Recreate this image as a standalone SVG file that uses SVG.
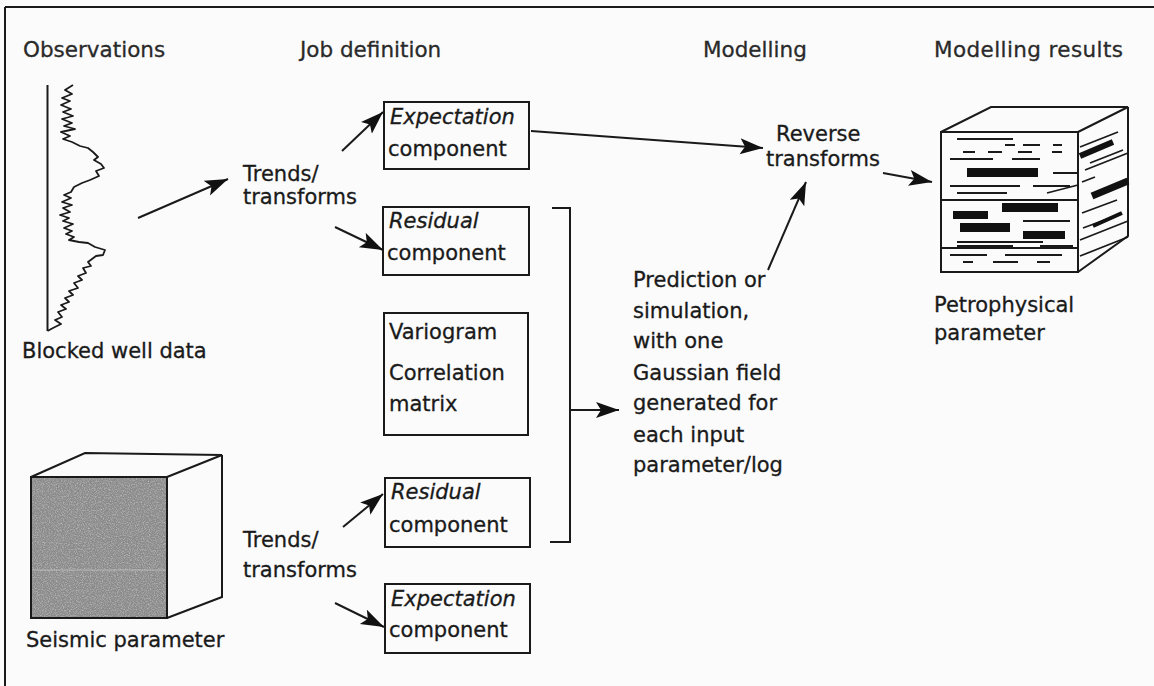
<svg xmlns="http://www.w3.org/2000/svg" width="1154" height="686" viewBox="0 0 1154 686">
  <style>
    .hdr { font-family: "DejaVu Sans", "Liberation Sans", sans-serif; font-size: 21.5px; fill: #2a2a2a; stroke: #2a2a2a; stroke-width: 0.3; }
    .txt { font-family: "DejaVu Sans", "Liberation Sans", sans-serif; font-size: 21px; fill: #1a1a1a; stroke: #1a1a1a; stroke-width: 0.3; }
    .it { font-style: italic; }
    .box { fill: none; stroke: #1a1a1a; stroke-width: 2; }
    .ln { fill: none; stroke: #1a1a1a; stroke-width: 2; }
    .arr { fill: none; stroke: #1a1a1a; stroke-width: 2; marker-end: url(#head); }
    .thin { fill: none; stroke: #1a1a1a; stroke-width: 1.8; stroke-linejoin: round; }
    .bar { fill: #111; }
  </style>
  <defs>
    <marker id="head" markerUnits="userSpaceOnUse" markerWidth="26" markerHeight="18" refX="23" refY="8" orient="auto">
      <path d="M0,0 L23,8 L0,16 L5,8 Z" fill="#111"/>
    </marker>
    <filter id="grain" x="0" y="0" width="100%" height="100%">
      <feTurbulence type="fractalNoise" baseFrequency="0.85" numOctaves="2" seed="7"/>
      <feColorMatrix type="matrix" values="0 0 0 0 1  0 0 0 0 1  0 0 0 0 1  1.8 0 0 0 -0.75"/>
    </filter>
    <filter id="grainDark" x="0" y="0" width="100%" height="100%">
      <feTurbulence type="fractalNoise" baseFrequency="0.7" numOctaves="2" seed="21"/>
      <feColorMatrix type="matrix" values="0 0 0 0 0.3  0 0 0 0 0.3  0 0 0 0 0.3  1.8 0 0 0 -0.8"/>
    </filter>
  </defs>

  <rect x="0" y="0" width="1154" height="686" fill="#fbfbfb"/>

  <!-- frame -->
  <g id="frame">
    <line x1="5" y1="7" x2="1154" y2="7" class="ln"/>
    <line x1="5" y1="7" x2="5" y2="686" class="ln"/>
  </g>

  <!-- column headings -->
  <g id="headings">
    <text class="hdr" x="23" y="57">Observations</text>
    <text class="hdr" x="300" y="57">Job definition</text>
    <text class="hdr" x="703" y="57">Modelling</text>
    <text class="hdr" x="934" y="57" textLength="189" lengthAdjust="spacing">Modelling results</text>
  </g>

  <!-- well log -->
  <g id="well-data">
    <line x1="47.5" y1="85" x2="47.5" y2="331" class="ln"/>
    <polyline class="thin" stroke-width="2" points="73,85 65,90 72,94 62,98 70,101 61,105 71,109 63,112 73,116 62,119 72,123 64,126 75,129 61,132 70,136 63,139 72,142 80,146 88,148 93,152 98,157 94,160 101,164 104,168 96,171 99,176 90,180 82,183 74,187 71,192 64,195 71,198 62,202 72,205 63,208 70,212 60,215 69,218 63,221 73,224 64,228 72,231 66,234 74,237 69,240 79,242 88,243 95,247 105,250 103,255 96,256 92,259 88,262 91,266 83,268 86,273 78,276 82,280 74,283 78,288 69,291 73,295 65,298 69,302 61,305 66,309 58,312 62,317 55,320 61,324 53,328 47.5,331"/>
    <text class="txt" x="22" y="358">Blocked well data</text>
  </g>

  <!-- seismic cube -->
  <g id="seismic">
    <rect x="31" y="477" width="136" height="141" fill="#8a8a8a"/>
    <rect x="31" y="477" width="136" height="141" filter="url(#grain)" opacity="0.55"/>
    <rect x="31" y="477" width="136" height="141" filter="url(#grainDark)" opacity="0.5"/>
    <line x1="31" y1="570" x2="167" y2="570" stroke="#c8c8c8" stroke-width="1" opacity="0.7"/>
    <rect x="31" y="477" width="136" height="141" class="box"/>
    <path d="M31,477 L85,453 L222,455 L167,477 M222,455 L222,597 L167,618" class="ln"/>
    <text class="txt" x="26" y="647">Seismic parameter</text>
  </g>

  <!-- trends / transforms labels -->
  <g id="trends-upper">
    <text class="txt" x="243" y="181">Trends/</text>
    <text class="txt" x="243" y="204">transforms</text>
  </g>
  <g id="trends-lower">
    <text class="txt" x="243" y="547">Trends/</text>
    <text class="txt" x="243" y="577">transforms</text>
  </g>

  <!-- job definition boxes -->
  <g id="expectation-upper">
    <rect x="384" y="102" width="145" height="67" class="box"/>
    <text class="txt it" x="390" y="124">Expectation</text>
    <text class="txt" x="388" y="156">component</text>
  </g>
  <g id="residual-upper">
    <rect x="383" y="207" width="146" height="68" class="box"/>
    <text class="txt it" x="389" y="228">Residual</text>
    <text class="txt" x="387" y="260">component</text>
  </g>
  <g id="variogram">
    <rect x="384" y="313" width="144" height="122" class="box"/>
    <text class="txt" x="389" y="339">Variogram</text>
    <text class="txt" x="389" y="380">Correlation</text>
    <text class="txt" x="389" y="411">matrix</text>
  </g>
  <g id="residual-lower">
    <rect x="385" y="478" width="145" height="69" class="box"/>
    <text class="txt it" x="391" y="499">Residual</text>
    <text class="txt" x="389" y="532">component</text>
  </g>
  <g id="expectation-lower">
    <rect x="385" y="584" width="145" height="69" class="box"/>
    <text class="txt it" x="391" y="606">Expectation</text>
    <text class="txt" x="389" y="637">component</text>
  </g>

  <!-- modelling step -->
  <g id="prediction">
    <text class="txt" x="633" y="287">Prediction or</text>
    <text class="txt" x="633" y="318">simulation,</text>
    <text class="txt" x="633" y="348">with one</text>
    <text class="txt" x="633" y="380">Gaussian field</text>
    <text class="txt" x="633" y="410">generated for</text>
    <text class="txt" x="633" y="442">each input</text>
    <text class="txt" x="633" y="472">parameter/log</text>
  </g>
  <g id="reverse">
    <text class="txt" x="776" y="141">Reverse</text>
    <text class="txt" x="766" y="166">transforms</text>
  </g>

  <!-- petrophysical result block -->
  <g id="petrophysical">
    <rect x="941" y="132" width="137" height="140" class="box"/>
    <path d="M941,132 L991,107 L1128,107 L1078,132 M1128,107 L1128,236 L1078,272" class="ln"/>
    <line x1="941" y1="200" x2="1078" y2="200" class="thin"/>
    <line x1="941" y1="248" x2="1078" y2="248" class="thin"/>
    <g class="thin" stroke-width="1.6">
      <path d="M957,139 H1013 M1005,145 H1015 M1023,145 H1040 M1053,145 H1062
               M963,152 H975 M988,152 H1002 M1018,152 H1032 M1052,152 H1062
               M950,159 H993 M1012,159 H1040 M1053,173 H1078
               M950,186 H1020 M1033,186 H1070 M957,193 H1007 M1047,193 L1078,185
               M1023,221 H1070 M957,242 H1043 M957,246 H1013 M1040,246 H1073
               M950,255 H987 M1005,255 H1062 M963,262 H973 M993,262 H1018 M1037,262 H1050"/>
      <path d="M1080,147 L1118,132 M1090,163 L1123,150 M1082,182 L1095,177 M1082,213 L1117,200
               M1080,240 L1128,221 M1080,256 L1128,237 M1085,170 L1128,153 M1083,228 L1110,218"/>
    </g>
    <rect x="967" y="168" width="71" height="9" class="bar"/>
    <rect x="1002" y="203" width="56" height="9" class="bar"/>
    <rect x="953" y="211" width="35" height="8" class="bar"/>
    <rect x="960" y="223" width="50" height="9" class="bar"/>
    <rect x="1023" y="231" width="42" height="8" class="bar"/>
    <path d="M1080,156 L1113,142" stroke="#111" stroke-width="6"/>
    <path d="M1092,196 L1128,181" stroke="#111" stroke-width="7"/>
    <path d="M1093,226 L1122,213" stroke="#111" stroke-width="4"/>
    <text class="txt" x="934" y="312">Petrophysical</text>
    <text class="txt" x="934" y="340">parameter</text>
  </g>

  <!-- connectors -->
  <g id="connectors">
    <line x1="138" y1="218" x2="228" y2="179" class="arr"/>
    <line x1="342" y1="151" x2="383" y2="112" class="arr"/>
    <line x1="335" y1="227" x2="383" y2="250" class="arr"/>
    <line x1="343" y1="527" x2="383" y2="494" class="arr"/>
    <line x1="335" y1="603" x2="384" y2="627" class="arr"/>
    <path d="M552,208 H570 V542 H550" class="ln"/>
    <line x1="570" y1="410" x2="619" y2="410" class="arr"/>
    <line x1="531" y1="131" x2="763" y2="148" class="arr"/>
    <line x1="768" y1="270" x2="806" y2="182" class="arr"/>
    <line x1="883" y1="173" x2="932" y2="182" class="arr"/>
  </g>
</svg>
